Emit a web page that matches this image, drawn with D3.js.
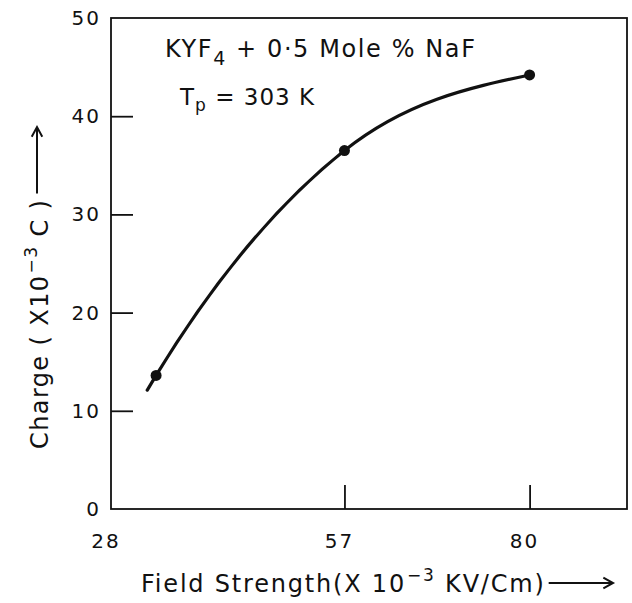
<!DOCTYPE html>
<html>
<head>
<meta charset="utf-8">
<script src="https://cdn.jsdelivr.net/npm/d3@7"></script>
<style>
  html, body { margin: 0; padding: 0; background: #fff; }
  svg { display: block; }
  text { font-family: "DejaVu Sans", sans-serif; fill: #111; }
</style>
</head>
<body>
<svg id="chart" width="632" height="603"></svg>
<script>
// Measured charge vs. applied field strength
const fieldStrength = [33.6, 57, 80];      // x 10^-3 kV/cm
const charge = [13.6, 36.5, 44.2];         // x 10^-3 C
// The hand-drawn curve begins a little below the first point
const curveLead = [32.5, 12.1];

const xTicks = [57, 80];
const xTickLabels = ["28", "57", "80"];
const xLabelValues = [28, 57, 80];
const yTicks = [10, 20, 30, 40];
const yTickLabels = ["0", "10", "20", "30", "40", "50"];
const yLabelValues = [0, 10, 20, 30, 40, 50];

const svg = d3.select("#chart");
const plot = { left: 111, right: 627, top: 18, bottom: 509 };

const x = d3.scaleLinear().domain([28, 92.1]).range([plot.left, plot.right]);
const y = d3.scaleLinear().domain([0, 50]).range([plot.bottom, plot.top]);

const ink = "#111";

// frame
svg.append("rect")
  .attr("x", plot.left).attr("y", plot.top)
  .attr("width", plot.right - plot.left).attr("height", plot.bottom - plot.top)
  .attr("fill", "none").attr("stroke", ink).attr("stroke-width", 1.8);

// inward ticks on the left axis
const yAxis = d3.axisLeft(y).tickValues(yTicks).tickSizeInner(-22).tickSizeOuter(0).tickFormat("");
const gy = svg.append("g").attr("transform", `translate(${plot.left},0)`).call(yAxis);
gy.select(".domain").remove();
gy.selectAll(".tick line").attr("stroke", ink).attr("stroke-width", 1.8);

// inward ticks on the bottom axis
const xAxis = d3.axisBottom(x).tickValues(xTicks).tickSizeInner(-24).tickSizeOuter(0).tickFormat("");
const gx = svg.append("g").attr("transform", `translate(0,${plot.bottom})`).call(xAxis);
gx.select(".domain").remove();
gx.selectAll(".tick line").attr("stroke", ink).attr("stroke-width", 1.8);

// tick labels
svg.append("g").selectAll("text")
  .data(yLabelValues)
  .join("text")
  .attr("x", plot.left - 10)
  .attr("y", d => y(d) + 7)
  .attr("text-anchor", "end")
  .attr("font-size", 20)
  .attr("letter-spacing", 2)
  .text((d, i) => yTickLabels[i]);

svg.append("g").selectAll("text")
  .data(xLabelValues)
  .join("text")
  .attr("x", d => x(d) - 5)
  .attr("y", plot.bottom + 39)
  .attr("text-anchor", "middle")
  .attr("font-size", 20)
  .attr("letter-spacing", 2)
  .text((d, i) => xTickLabels[i]);

// curve
const pts = [curveLead].concat(fieldStrength.map((v, i) => [v, charge[i]]));
const line = d3.line()
  .x(d => x(d[0]))
  .y(d => y(d[1]))
  .curve(d3.curveMonotoneX);
svg.append("path")
  .attr("d", line(pts))
  .attr("fill", "none")
  .attr("stroke", ink)
  .attr("stroke-width", 3.2)
  .attr("stroke-linecap", "round");

svg.append("g").selectAll("circle")
  .data(fieldStrength)
  .join("circle")
  .attr("cx", d => x(d))
  .attr("cy", (d, i) => y(charge[i]))
  .attr("r", 5.5)
  .attr("fill", ink);

// annotation
const t1 = svg.append("text").attr("x", 165).attr("y", 57)
  .attr("font-size", 24).attr("letter-spacing", 1.6);
t1.append("tspan").text("KYF");
t1.append("tspan").attr("dy", 8).attr("font-size", 19).text("4");
t1.append("tspan").attr("dy", -8).text(" + 0·5 Mole %  NaF");

const t2 = svg.append("text").attr("x", 180).attr("y", 105)
  .attr("font-size", 23).attr("letter-spacing", 1);
t2.append("tspan").text("T");
t2.append("tspan").attr("dy", 6).attr("font-size", 17).text("p");
t2.append("tspan").attr("dy", -6).text(" = 303 K");

// arrow helper
function arrow(x1, y1, x2, y2) {
  svg.append("line")
    .attr("x1", x1).attr("y1", y1).attr("x2", x2).attr("y2", y2)
    .attr("stroke", ink).attr("stroke-width", 2);
  const ang = Math.atan2(y2 - y1, x2 - x1);
  const h = 11, w = 0.5;
  const p = [
    [x2 - h * Math.cos(ang - w), y2 - h * Math.sin(ang - w)],
    [x2, y2],
    [x2 - h * Math.cos(ang + w), y2 - h * Math.sin(ang + w)]
  ];
  svg.append("path")
    .attr("d", d3.line()(p))
    .attr("fill", "none").attr("stroke", ink).attr("stroke-width", 2);
}

// x axis title
const xt = svg.append("text").attr("x", 141).attr("y", 592)
  .attr("font-size", 24).attr("letter-spacing", 1.8);
xt.append("tspan").text("Field Strength(X 10");
xt.append("tspan").attr("dy", -11).attr("dx", 1).attr("font-size", 17).text("−3");
xt.append("tspan").attr("dy", 11).text(" KV/Cm)");
const xtEnd = 141 + xt.node().getComputedTextLength();
arrow(xtEnd + 4, 583, 613, 583);

// y axis title
const yt = svg.append("text")
  .attr("transform", "translate(48,449) rotate(-90)")
  .attr("font-size", 24).attr("letter-spacing", 1.4);
yt.append("tspan").text("Charge ( X10");
yt.append("tspan").attr("dy", -11).attr("dx", 1).attr("font-size", 17).text("−3");
yt.append("tspan").attr("dy", 11).text(" C )");
const ytEnd = 449 - yt.node().getComputedTextLength();
arrow(37, ytEnd - 6, 37, 127);
</script>
</body>
</html>
